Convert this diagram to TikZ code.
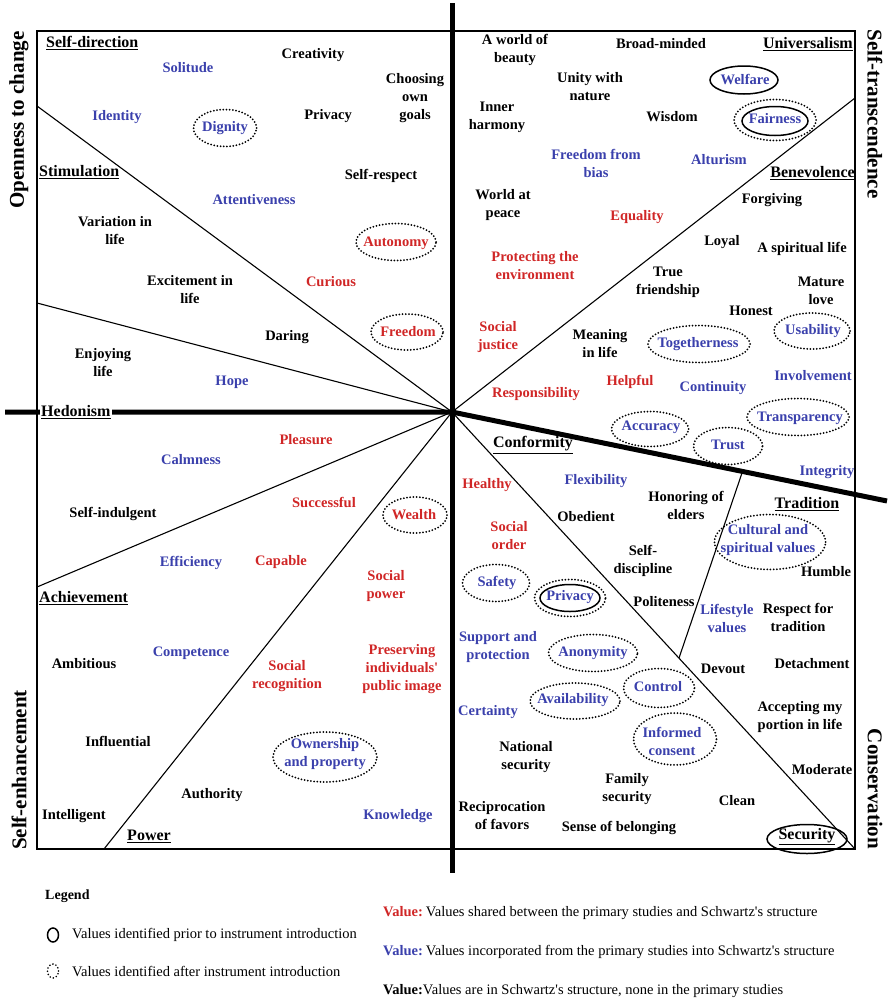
\documentclass[tikz,border=0pt]{standalone}
\usepackage{fontspec}
\setmainfont{Liberation Serif}
\usetikzlibrary{shapes.geometric}
\definecolor{valred}{RGB}{208,38,38}
\definecolor{valblue}{RGB}{58,64,172}
% straight apostrophes, loaded without the TeX quote mapping
\font\aposbold="Liberation Serif/B" at 14.5pt
\font\aposreg="Liberation Serif" at 14.5pt
\newcommand\straightqb{{\aposbold'}}
\newcommand\straightq{{\aposreg'}}
\begin{document}
\begin{tikzpicture}[x=1pt,y=-1pt,
  v/.style={font=\fontsize{14.5}{18}\selectfont\bfseries, align=center, inner sep=0pt},
  vr/.style={v, text=valred},
  vb/.style={v, text=valblue},
  cat/.style={font=\fontsize{16}{19}\selectfont\bfseries, inner sep=0pt},
  side/.style={font=\fontsize{21}{24}\selectfont\bfseries, inner sep=0pt},
  dotring/.style={ellipse, draw, line width=2pt, dash pattern=on 0pt off 3.2pt, line cap=round, inner sep=0pt},
  ring/.style={ellipse, draw, line width=1.5pt, inner sep=0pt},
  frame/.style={line width=1.2pt},
  divider/.style={line width=1.1pt},
  axis/.style={line width=5pt},
  leg/.style={font=\fontsize{14.5}{17}\selectfont, anchor=west, inner sep=0pt},
]
\useasboundingbox (0,0) rectangle (887,1001);

% frame of the value map
\coordinate (tl) at (37,31);
\coordinate (br) at (855,849);
\draw[frame] (tl) rectangle (br);

% sector boundaries radiating from the centre
\coordinate (c) at (452,412);
\coordinate (b1) at (37,106);
\coordinate (b2) at (37,303);
\coordinate (b3) at (37,587);
\coordinate (b4) at (104,849);
\coordinate (b5) at (855,98);
\coordinate (b6) at (855,849);
\coordinate (t1) at (742,473);
\coordinate (t2) at (679,658);
\draw[divider] (c) -- (b1);
\draw[divider] (c) -- (b2);
\draw[divider] (c) -- (b3);
\draw[divider] (c) -- (b4);
\draw[divider] (c) -- (b5);
\draw[divider] (c) -- (b6);
\draw[divider] (t1) -- (t2);

% main axes
\coordinate (axtop) at (452,3);
\coordinate (axbot) at (452,873);
\coordinate (axleft) at (5,412);
\coordinate (axright) at (887,501);
\draw[axis] (axtop) -- (axbot);
\draw[axis] (axleft) -- (c) -- (axright);

% higher-order dimensions
\node[side, rotate=90] (openness) at (19,120) {Openness to change};
\node[side, rotate=90] (selfenh) at (19,770) {Self-enhancement};
\node[side, rotate=-90] (selftrans) at (875,114) {Self-transcendence};
\node[side, rotate=-90] (conservation) at (875,789) {Conservation};

% value types
\node[cat, anchor=west] (selfdirection) at (46,43) {\underline{Self-direction}};
\node[cat, anchor=west] (stimulation) at (39,172) {\underline{Stimulation}};
\node[cat, anchor=west, fill=white, inner sep=1pt] (hedonism) at (40,412) {\underline{Hedonism}};
\node[cat, anchor=west] (achievement) at (39,598) {\underline{Achievement}};
\node[cat] (power) at (149,836) {\underline{Power}};
\node[cat, anchor=east] (universalism) at (853,44) {\underline{Universalism}};
\node[cat, anchor=east] (benevolence) at (855,173) {\underline{Benevolence}};
\node[cat] (conformity) at (533,445) {\underline{Conformity}};
\node[cat] (tradition) at (807,504) {\underline{Tradition}};
\node[cat] (security) at (807,837) {\underline{Security}};
\node[ring, minimum width=80pt, minimum height=29pt] (security-ring) at (807,839) {};

% Self-direction
\node[vb] (solitude) at (188,68) {Solitude};
\node[v] (creativity) at (313,55) {Creativity};
\node[v] (goals) at (415,98) {Choosing\\own\\goals};
\node[vb] (identity) at (117,117) {Identity};
\node[vb] (dignity) at (225,128) {Dignity};
\node[dotring, minimum width=63pt, minimum height=37pt] (dignity-ring) at (225,128) {};
\node[v] (privacy1) at (328,116) {Privacy};
\node[v] (selfrespect) at (381,176) {Self-respect};
\node[vb] (attentiveness) at (254,200) {Attentiveness};

% Stimulation
\node[v] (variation) at (115,231) {Variation in\\life};
\node[v] (excitement) at (190,290) {Excitement in\\life};
\node[vr] (autonomy) at (396,243) {Autonomy};
\node[dotring, minimum width=80pt, minimum height=37pt] (autonomy-ring) at (396,242) {};
\node[vr] (curious) at (331,282) {Curious};
\node[v] (daring) at (287,337) {Daring};
\node[vr] (freedom) at (408,332) {Freedom};
\node[dotring, minimum width=72pt, minimum height=36pt] (freedom-ring) at (407,332) {};

% Hedonism
\node[v] (enjoying) at (103,363) {Enjoying\\life};
\node[vb] (hope) at (232,382) {Hope};
\node[vr] (pleasure) at (306,440) {Pleasure};
\node[vb] (calmness) at (191,460) {Calmness};
\node[v] (selfindulgent) at (113,514) {Self-indulgent};
\node[vr] (successful) at (324,502) {Successful};
\node[vr] (wealth) at (414,515) {Wealth};
\node[dotring, minimum width=64pt, minimum height=36pt] (wealth-ring) at (415,515) {};
\node[vb] (efficiency) at (191,563) {Efficiency};
\node[vr] (capable) at (281,562) {Capable};
\node[vr] (socialpower) at (386,586) {Social\\power};

% Achievement and Power
\node[vb] (competence) at (191,653) {Competence};
\node[v] (ambitious) at (84,664) {Ambitious};
\node[vr] (recognition) at (287,676) {Social\\recognition};
\node[vr] (image) at (402,669) {Preserving\\individuals\straightqb\\public image};
\node[v] (influential) at (118,741) {Influential};
\node[vb] (ownership) at (325,754) {Ownership\\and property};
\node[dotring, minimum width=104pt, minimum height=50pt] (ownership-ring) at (325,757) {};
\node[v] (authority) at (212,795) {Authority};
\node[v] (intelligent) at (74,816) {Intelligent};
\node[vb] (knowledge) at (398,816) {Knowledge};

% Universalism
\node[v] (beauty) at (515,50) {A world of\\beauty};
\node[v] (broadminded) at (661,44) {Broad-minded};
\node[v] (unity) at (590,87) {Unity with\\nature};
\node[vb] (welfare) at (745,80) {Welfare};
\node[ring, minimum width=68pt, minimum height=28pt] (welfare-ring) at (744,80) {};
\node[v] (harmony) at (497,117) {Inner\\harmony};
\node[v] (wisdom) at (672,117) {Wisdom};
\node[vb] (fairness) at (775,119) {Fairness};
\node[ring, minimum width=66pt, minimum height=29pt] (fairness-ring) at (775,121) {};
\node[dotring, minimum width=82pt, minimum height=41pt] (fairness-dots) at (775,120) {};
\node[vb] (bias) at (596,163) {Freedom from\\bias};
\node[vb] (alturism) at (719,160) {Alturism};
\node[v] (peace) at (503,205) {World at\\peace};
\node[vr] (equality) at (637,217) {Equality};
\node[vr] (environment) at (535,266) {Protecting the\\environment};
\node[vr] (justice) at (498,337) {Social\\justice};
\node[vr] (responsibility) at (536,394) {Responsibility};

% Benevolence
\node[v] (forgiving) at (772,200) {Forgiving};
\node[v] (loyal) at (722,242) {Loyal};
\node[v] (spiritual) at (802,249) {A spiritual life};
\node[v] (friendship) at (668,282) {True\\friendship};
\node[v] (love) at (821,291) {Mature\\love};
\node[v] (honest) at (751,311) {Honest};
\node[v] (meaning) at (600,344) {Meaning\\in life};
\node[vb] (togetherness) at (698,344) {Togetherness};
\node[dotring, minimum width=102pt, minimum height=37pt] (togetherness-ring) at (699,344) {};
\node[vb] (usability) at (813,331) {Usability};
\node[dotring, minimum width=76pt, minimum height=36pt] (usability-ring) at (812,331) {};
\node[vb] (involvement) at (813,376) {Involvement};
\node[vr] (helpful) at (630,382) {Helpful};
\node[vb] (continuity) at (713,388) {Continuity};
\node[vb] (transparency) at (800,418) {Transparency};
\node[dotring, minimum width=102pt, minimum height=37pt] (transparency-ring) at (798,417) {};
\node[vb] (accuracy) at (651,427) {Accuracy};
\node[dotring, minimum width=77pt, minimum height=35pt] (accuracy-ring) at (650,429) {};
\node[vb] (trust) at (728,445) {Trust};
\node[dotring, minimum width=69pt, minimum height=37pt] (trust-ring) at (728,446) {};
\node[vb] (integrity) at (827,472) {Integrity};

% Conformity and Tradition
\node[vr] (healthy) at (487,485) {Healthy};
\node[vb] (flexibility) at (596,481) {Flexibility};
\node[v] (elders) at (686,505) {Honoring of\\elders};
\node[v] (obedient) at (586,517) {Obedient};
\node[vr] (socialorder) at (509,536) {Social\\order};
\node[vb] (cultural) at (768,540) {Cultural and\\spiritual values};
\node[dotring, minimum width=111pt, minimum height=55pt] (cultural-ring) at (770,542) {};
\node[v] (discipline) at (643,561) {Self-\\discipline};
\node[v] (humble) at (826,572) {Humble};
\node[vb] (safety) at (497,583) {Safety};
\node[dotring, minimum width=67pt, minimum height=37pt] (safety-ring) at (496,583) {};
\node[vb] (privacy2) at (570,597) {Privacy};
\node[ring, minimum width=60pt, minimum height=27pt] (privacy-ring) at (570,598) {};
\node[dotring, minimum width=71pt, minimum height=37pt] (privacy-dots) at (570,598) {};
\node[v] (politeness) at (664,602) {Politeness};
\node[vb] (lifestyle) at (727,618) {Lifestyle\\values};
\node[v] (respect) at (798,617) {Respect for\\tradition};
\node[vb] (support) at (498,647) {Support and\\protection};
\node[vb] (anonymity) at (593,653) {Anonymity};
\node[dotring, minimum width=89pt, minimum height=37pt] (anonymity-ring) at (593,653) {};
\node[v] (devout) at (723,669) {Devout};
\node[v] (detachment) at (812,664) {Detachment};
\node[vb] (control) at (658,687) {Control};
\node[dotring, minimum width=71pt, minimum height=39pt] (control-ring) at (659,688) {};
\node[vb] (availability) at (573,700) {Availability};
\node[dotring, minimum width=90pt, minimum height=36pt] (availability-ring) at (575,701) {};
\node[vb] (certainty) at (488,712) {Certainty};
\node[v] (accepting) at (800,717) {Accepting my\\portion in life};
\node[vb] (consent) at (672,741) {Informed\\consent};
\node[dotring, minimum width=83pt, minimum height=52pt] (consent-ring) at (675,739) {};
\node[v] (national) at (526,757) {National\\security};
\node[v] (moderate) at (822,770) {Moderate};
\node[v] (family) at (627,789) {Family\\security};
\node[v] (clean) at (737,801) {Clean};
\node[v] (reciprocation) at (502,816) {Reciprocation\\of favors};
\node[v] (belonging) at (619,828) {Sense of belonging};

% legend
\node[font=\fontsize{14}{17}\selectfont\bfseries, anchor=west, inner sep=0pt] (legend) at (45,896) {Legend};
\node[ellipse, draw, line width=1.5pt, minimum width=11pt, minimum height=14pt, inner sep=0pt] (legsolid) at (53,935) {};
\node[leg] (legsolid-text) at (72,935) {Values identified prior to instrument introduction};
\node[ellipse, draw, line width=1.8pt, dash pattern=on 0pt off 3.3pt, line cap=round, minimum width=11pt, minimum height=14pt, inner sep=0pt] (legdots) at (53,971) {};
\node[leg] (legdots-text) at (72,971) {Values identified after instrument introduction};
\node[leg] (legred) at (383,913) {\textbf{\textcolor{valred}{Value:}}\hspace{3pt}Values shared between the primary studies and Schwartz\straightq s structure};
\node[leg] (legblue) at (383,952) {\textbf{\textcolor{valblue}{Value:}}\hspace{3pt}Values incorporated from the primary studies into Schwartz\straightq s structure};
\node[leg] (legblack) at (383,991) {\textbf{Value:}Values are in Schwartz\straightq s structure, none in the primary studies};
\end{tikzpicture}
\end{document}
